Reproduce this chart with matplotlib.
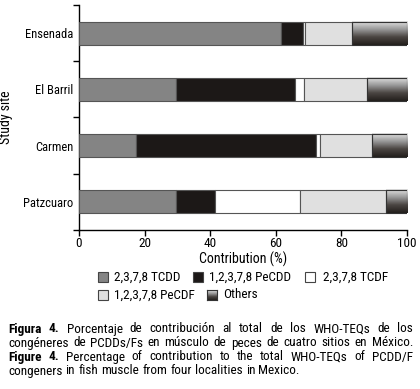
import numpy as np
import matplotlib
matplotlib.use("Agg")
import matplotlib.pyplot as plt
from matplotlib.patches import Rectangle
from matplotlib.colors import LinearSegmentedColormap

plt.rcParams['font.family'] = ['Roboto Condensed', 'DejaVu Sans']

# data (bottom to top)
sites = ['Patzcuaro', 'Carmen', 'El Barril', 'Ensenada']
tcdd = [29.7, 17.3, 29.7, 61.5]
pecdd = [11.9, 54.9, 36.1, 6.8]
tcdf = [25.7, 1.2, 2.7, 0.6]
pecdf = [26.2, 15.8, 19.2, 14.2]
others = [6.5, 10.8, 12.3, 16.9]
labels = ['2,3,7,8 TCDD', '1,2,3,7,8 PeCDD', '2,3,7,8 TCDF', '1,2,3,7,8 PeCDF', 'Others']
colors = ['#848484', '#1c1817', '#ffffff', '#e0e0e0', None]

W, H = 420, 389
fig = plt.figure(figsize=(W / 100, H / 100), dpi=100)
ax = fig.add_axes([79 / W, 1 - 230 / H, 328 / W, 225 / H])

grad = LinearSegmentedColormap.from_list('g', ['#e2e2e2', '#9a9a9a', '#4a4542', '#231f1c'])
gimg = np.linspace(0, 1, 64).reshape(-1, 1)

y = np.arange(len(sites))
h = 0.41
left = np.zeros(len(sites))
for vals, c in zip([tcdd, pecdd, tcdf, pecdf, others], colors):
    vals = np.array(vals)
    if c is None:
        for yi, l, v in zip(y, left, vals):
            ax.imshow(gimg, cmap=grad, aspect='auto', extent=(l, l + v, yi - h / 2, yi + h / 2),
                      origin='upper', zorder=2)
        ax.barh(y, vals, left=left, height=h, fill=False, edgecolor='#333333', linewidth=0.8, zorder=3)
    else:
        ax.barh(y, vals, left=left, height=h, color=c, edgecolor='#555555', linewidth=0.8, zorder=3)
    left = left + vals

ax.set_xlim(0, 100)
ax.set_ylim(-0.5, 3.5)
ax.set_yticks(y)
ax.set_yticklabels(sites, fontsize=9)
ax.set_yticks(np.arange(-0.5, 4, 1), minor=True)
ax.tick_params(axis='y', which='major', length=0, pad=4)
ax.tick_params(axis='y', which='minor', length=4, width=1)
ax.set_xticks([0, 20, 40, 60, 80, 100])
ax.tick_params(axis='x', labelsize=9.5, length=4, width=1, pad=1)
ax.set_xlabel('Contribution (%)', fontsize=10, labelpad=1)
ax.set_ylabel('Study site', fontsize=10)
ax.yaxis.set_label_coords(-0.2, 0.5)
for s in ['top', 'right']:
    ax.spines[s].set_visible(False)
for s in ['left', 'bottom']:
    ax.spines[s].set_linewidth(1)

# legend, drawn by hand in pixel positions
items = [(98, 277, 0), (193, 277, 1), (305, 277, 2), (98, 295, 3), (207, 295, 4)]
for px, py, i in items:
    x0, y0 = px / W, 1 - (py + 5) / H
    sw, sh = 10 / W, 10 / H
    if colors[i] is None:
        gax = fig.add_axes([x0, y0, sw, sh])
        gax.imshow(gimg, cmap=grad, aspect='auto')
        gax.set_xticks([]); gax.set_yticks([])
        for sp in gax.spines.values():
            sp.set_linewidth(0.8); sp.set_color('#333333')
    else:
        fig.patches.append(Rectangle((x0, y0), sw, sh, transform=fig.transFigure,
                                     facecolor=colors[i], edgecolor='#444444', linewidth=0.8))
    tx = px + (18 if i == 2 else 16)
    fig.text(tx / W, 1 - py / H, labels[i], fontsize=9.5, va='center', ha='left')

# caption, justified
fig.canvas.draw()
renderer = fig.canvas.get_renderer()

def line(words, py, justify=True, x0=8, x1=413):
    arts = []
    for w, bold in words:
        t = fig.text(0, 1 - py / H, w, fontsize=9.5, va='center', ha='left',
                     fontweight='bold' if bold else 'normal')
        arts.append(t)
    widths = [t.get_window_extent(renderer).width for t in arts]
    if justify and len(arts) > 1:
        gap = (x1 - x0 - sum(widths)) / (len(arts) - 1)
    else:
        gap = 3.2
    x = x0
    for t, wd in zip(arts, widths):
        t.set_x(x / W)
        x += wd + gap

def words_of(s, bold_n=0):
    ws = s.split(' ')
    return [(w, i < bold_n) for i, w in enumerate(ws)]

line(words_of('Figura 4. Porcentaje de contribución al total de los WHO-TEQs de los', 2), 329)
line(words_of('congéneres de PCDDs/Fs en músculo de peces de cuatro sitios en México.'), 343)
line(words_of('Figure 4. Percentage of contribution to the total WHO-TEQs of PCDD/F', 2), 357)
line(words_of('congeners in fish muscle from four localities in Mexico.'), 371, justify=False)

fig.savefig('out.png', dpi=100)
